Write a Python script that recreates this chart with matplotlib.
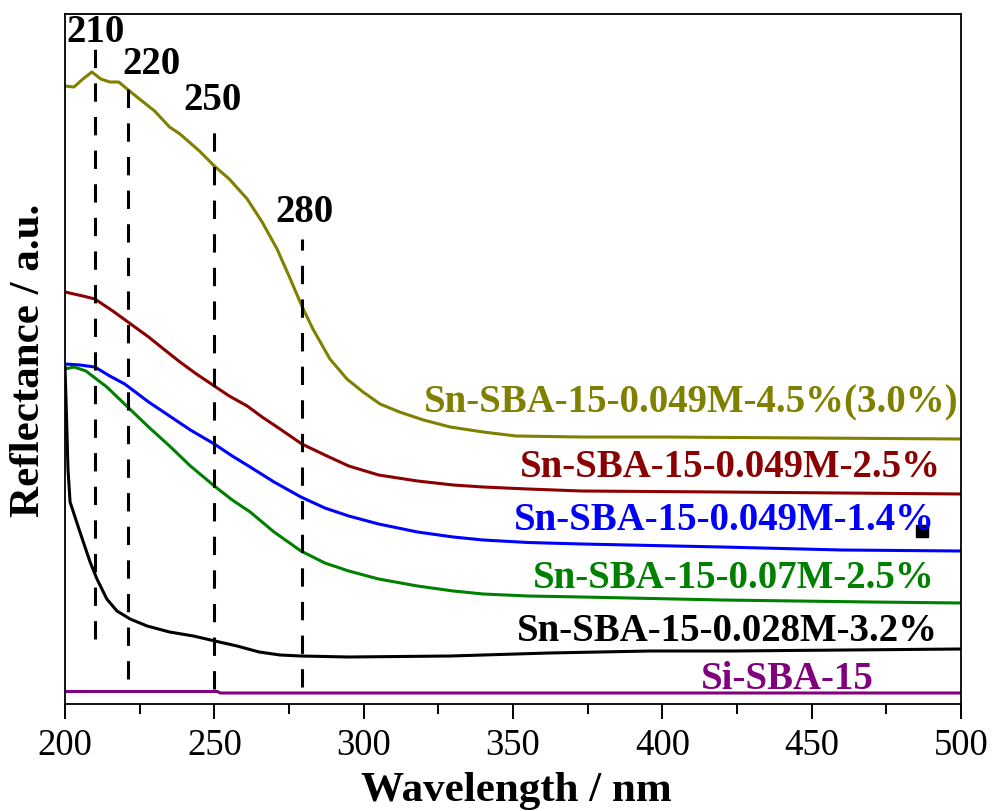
"""UV-vis DR spectra of Sn-SBA-15 samples, recreated from the published figure."""

import matplotlib
matplotlib.use("Agg")
import matplotlib.pyplot as plt
from matplotlib.ticker import MultipleLocator

# curve values (wavelength nm, reflectance a.u.)
olive_x = [200, 203, 206, 209, 212, 215, 218, 222, 230, 235, 238.5, 245, 250, 255,
           261, 266, 271, 275, 279.3, 283, 288.7, 294.4, 299.8, 305.5, 312, 320,
           329, 340, 351, 373, 400, 450, 500]
olive_y = [618, 617, 625, 632, 625, 622, 622, 612, 593, 577, 570, 553, 538, 525,
           505, 482, 455, 428, 398, 375, 345, 325, 312, 300, 292, 284,
           277, 272, 268, 267, 267, 266, 265]

red_x = [200, 206, 210, 216, 222, 228, 233, 238.5, 244, 249.5, 255, 261, 266, 272,
         279.3, 287, 295, 305, 318, 330, 340, 355, 373, 420, 500]
red_y = [412, 408, 405, 393, 380, 367, 355, 342, 330, 319, 308, 298, 287, 275,
         260, 249, 238, 229, 223, 219, 217, 215, 213, 212, 210]

blue_x = [200, 205, 210, 215, 220, 228, 235, 242, 250, 256, 262, 270, 279, 287,
          295, 305, 318, 330, 340, 355, 373, 420, 460, 500]
blue_y = [340, 339, 337, 328, 320, 302, 288, 274, 260, 248, 237, 222, 207, 196,
          188, 180, 172, 167, 164, 161.5, 160, 157, 154, 153]

green_x = [200, 203, 207, 214, 221, 228, 235, 242, 250, 256, 262, 270, 279, 287,
           295, 305, 318, 330, 340, 355, 373, 420, 470, 500]
green_y = [335, 337, 333, 317, 297, 277, 258, 238, 218, 204, 192, 172, 153, 141,
           133, 125, 118, 113, 110, 108, 107, 104, 102, 101]

black_x = [200, 200.5, 201, 201.7, 205, 208.4, 210.7, 214, 217.4, 221.8, 227.5,
           235, 243, 250.2, 257.6, 265, 272, 279, 295, 329, 362, 396, 423, 500]
black_y = [337, 288, 235, 202, 172, 142, 125, 105, 93, 85, 78,
           72, 68, 63, 58, 52, 49, 48, 47, 48, 51, 53, 53, 55]

purple_x = [200, 251, 252, 500]
purple_y = [12.5, 12.5, 11, 11]

peak_nm = [210, 221, 250, 279.3]
peak_text = ["210", "220", "250", "280"]
peak_top = [658, 620, 577, 465]
peak_bottom = [65, 25, 15, 17]
peak_label_x = [210.4, 228.8, 249.5, 280.3]
peak_label_y = [673, 640, 605, 493]

names = ["Sn-SBA-15-0.049M-4.5%(3.0%)", "Sn-SBA-15-0.049M-2.5%",
         "Sn-SBA-15-0.049M-1.4%", "Sn-SBA-15-0.07M-2.5%",
         "Sn-SBA-15-0.028M-3.2%", "Si-SBA-15"]
name_x = [499, 493.3, 491.3, 491.3, 492.3, 441.7]
name_y = [302, 237, 184, 126, 73, 25]
colors = ["#808000", "#8b0000", "#0000ff", "#008000", "#000000", "#800080"]

SERIF = "Liberation Serif"


def main() -> None:
    fig = plt.figure(figsize=(9.92, 8.12), dpi=100)
    ax = fig.add_axes([65 / 992, 107 / 812, 896 / 992, 690 / 812])

    curves = [(olive_x, olive_y), (red_x, red_y), (blue_x, blue_y),
              (green_x, green_y), (black_x, black_y), (purple_x, purple_y)]
    for (xs, ys), c in zip(curves, colors):
        ax.plot(xs, ys, color=c, lw=2.2, solid_joinstyle="round")

    for nm, top, bot, txt, lx, ly in zip(peak_nm, peak_top, peak_bottom,
                                         peak_text, peak_label_x, peak_label_y):
        ax.plot([nm, nm], [bot, top], color="black", lw=2.2,
                linestyle=(0, (6, 5)))
        ax.text(lx, ly, txt, ha="center", va="center", fontsize=28,
                fontweight="bold", family=SERIF)

    aligns = ["right"] * 5 + ["center"]
    for name, x, y, c, ha in zip(names, name_x, name_y, colors, aligns):
        ax.text(x, y, name, color=c, ha=ha, va="center", fontsize=28,
                fontweight="bold", family=SERIF)

    # stray marker visible in the source image
    ax.plot([487], [173], marker="s", color="black", markersize=8)

    ax.set_xlim(200, 500)
    ax.set_ylim(0, 690)
    ax.xaxis.set_major_locator(MultipleLocator(50))
    ax.xaxis.set_minor_locator(MultipleLocator(25))
    ax.tick_params(axis="x", which="major", direction="out", length=11,
                   width=1.4, pad=6, labelsize=26.5)
    ax.tick_params(axis="x", which="minor", direction="out", length=7, width=1.4)
    ax.tick_params(axis="y", which="both", left=False, labelleft=False)
    for lab in ax.get_xticklabels():
        lab.set_fontfamily(SERIF)
    for sp in ax.spines.values():
        sp.set_linewidth(1.3)

    fig.text(516 / 992, 11 / 812, "Wavelength / nm", ha="center",
             va="baseline", fontsize=31, fontweight="bold", family=SERIF)
    fig.text(48 / 992, 1 - 360 / 812, "Reflectance / a.u.", ha="right",
             va="center", rotation=90, fontsize=31, fontweight="bold",
             family=SERIF)

    fig.savefig("out.png", dpi=100)
    plt.close(fig)


if __name__ == "__main__":
    main()
